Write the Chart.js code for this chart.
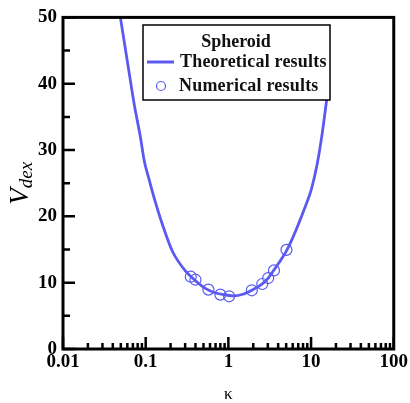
<!DOCTYPE html>
<html>
<head>
<meta charset="utf-8">
<script src="https://cdn.jsdelivr.net/npm/chart.js@4"></script>
<style>
  html, body { margin: 0; padding: 0; background: #fff; }
  canvas { display: block; }
</style>
</head>
<body>
<canvas id="chart" width="410" height="403"></canvas>
<script>
// === データ ===
// 理論曲線 (κ, V_dex)
const theoryKappa = [0.0494, 0.060, 0.0729, 0.0862, 0.096, 0.108, 0.127, 0.160, 0.211, 0.306, 0.40, 0.533, 0.70, 0.931, 1.15, 1.5, 1.92, 2.5, 3.0, 3.5, 4.09, 5.04, 5.92, 8.59, 10.1, 11.9, 13.6, 15.6];
const theoryV     = [50.0,   43.4,  36.8,   32.0,   28.4,  25.9,  22.7,  18.7,  14.7,  11.7,  10.3, 9.1,   8.45, 8.15,  8.0,  8.25, 8.85, 9.7, 10.6, 11.8, 13.0, 14.8, 16.6, 21.6, 24.1, 28.0, 32.4, 38.0];
// 数値計算結果
const numKappa = [0.351, 0.40, 0.574, 0.80, 1.02, 1.92, 2.57, 3.03, 3.56, 5.04];
const numV     = [10.9, 10.45, 8.95, 8.2, 7.95, 8.85, 9.8, 10.7, 11.85, 14.95];

// 目盛り
const xTicks = [0.01, 0.1, 1, 10, 100];
const xTickLabels = ['0.01', '0.1', '1', '10', '100'];
const yTicks = [0, 10, 20, 30, 40, 50];
const yMinorTicks = [5, 15, 25, 35, 45];

const blue = '#5a5af2';
const serif = '"Liberation Serif", "Times New Roman", serif';

const xMinorTicks = [];
xTicks.slice(0, -1).forEach(d => { for (let m = 2; m <= 9; m++) xMinorTicks.push(d * m); });

// === 枠と内向き目盛り ===
const frameTicks = {
    id: 'frameTicks',
    afterDraw(chart) {
        const { ctx, chartArea: a, scales: { x, y } } = chart;
        ctx.save();
        ctx.strokeStyle = '#000';
        ctx.lineWidth = 2.5;
        ctx.beginPath();
        yTicks.forEach(v => { const py = y.getPixelForValue(v); ctx.moveTo(a.left, py); ctx.lineTo(a.left + 12, py); });
        yMinorTicks.forEach(v => { const py = y.getPixelForValue(v); ctx.moveTo(a.left, py); ctx.lineTo(a.left + 7, py); });
        xTicks.forEach(v => { const px = x.getPixelForValue(v); ctx.moveTo(px, a.bottom); ctx.lineTo(px, a.bottom - 12); });
        xMinorTicks.forEach(v => { const px = x.getPixelForValue(v); ctx.moveTo(px, a.bottom); ctx.lineTo(px, a.bottom - 6); });
        ctx.stroke();
        ctx.lineWidth = 3;
        ctx.strokeRect(a.left, a.top, a.right - a.left, a.bottom - a.top);

        // 縦軸タイトル V_dex
        ctx.translate(19, (a.top + a.bottom) / 2);
        ctx.rotate(-Math.PI / 2);
        ctx.fillStyle = '#000';
        ctx.textBaseline = 'alphabetic';
        ctx.font = `italic 27px ${serif}`;
        const vw = ctx.measureText('V').width;
        ctx.font = `italic 19px ${serif}`;
        const dw = ctx.measureText('dex').width;
        const sx = -(vw + dw) / 2;
        ctx.font = `italic 27px ${serif}`;
        ctx.fillText('V', sx, 9);
        ctx.font = `italic 19px ${serif}`;
        ctx.fillText('dex', sx + vw, 13);
        ctx.restore();
    }
};

// === 凡例 ===
const legendBox = {
    id: 'legendBox',
    afterDraw(chart) {
        const { ctx } = chart;
        ctx.save();
        ctx.fillStyle = '#fff';
        ctx.fillRect(143, 25, 187, 75);
        ctx.strokeStyle = '#000';
        ctx.lineWidth = 1.5;
        ctx.strokeRect(143, 25, 187, 75);
        ctx.fillStyle = '#111';
        ctx.font = `bold 18px ${serif}`;
        ctx.textBaseline = 'middle';
        ctx.textAlign = 'center';
        ctx.fillText('Spheroid', 236, 42);
        ctx.textAlign = 'left';
        ctx.letterSpacing = '0.2px';
        ctx.fillText('Theoretical results', 180, 62);
        ctx.fillText('Numerical results', 179, 86);
        ctx.strokeStyle = blue;
        ctx.lineWidth = 3;
        ctx.beginPath(); ctx.moveTo(147, 62); ctx.lineTo(174, 62); ctx.stroke();
        ctx.lineWidth = 1.2;
        ctx.beginPath(); ctx.arc(161, 86, 4.5, 0, Math.PI * 2); ctx.stroke();
        ctx.restore();
    }
};

// === グラフ描画 ===
const tickFont = { family: serif, size: 19, weight: 'bold' };

new Chart(document.getElementById('chart').getContext('2d'), {
    type: 'scatter',
    data: {
        datasets: [
            {
                label: 'Numerical results',
                data: numKappa.map((k, i) => ({ x: k, y: numV[i] })),
                pointRadius: 5.5, pointBorderWidth: 1.2,
                pointBackgroundColor: 'rgba(0,0,0,0)', pointBorderColor: blue,
                showLine: false
            },
            {
                label: 'Theoretical results',
                data: theoryKappa.map((k, i) => ({ x: k, y: theoryV[i] })),
                showLine: true, pointRadius: 0, borderColor: blue, borderWidth: 2.8,
                cubicInterpolationMode: 'monotone'
            }
        ]
    },
    options: {
        responsive: false, animation: false,
        layout: { padding: { top: 17, right: 15, left: 0, bottom: 0 } },
        plugins: { legend: { display: false }, tooltip: { enabled: false } },
        scales: {
            x: {
                type: 'logarithmic', min: 0.01, max: 100,
                afterBuildTicks: (axis) => { axis.ticks = xTicks.map(v => ({ value: v })); },
                afterFit: (axis) => { axis.height = 54; },
                ticks: { callback: (v, i) => xTickLabels[i], font: tickFont, color: '#000', maxRotation: 0, autoSkip: false, padding: 2 },
                grid: { display: false, drawTicks: false },
                border: { display: false },
                title: { display: true, text: 'κ', font: { family: serif, size: 17 }, color: '#000', padding: { top: 0, bottom: -2 } }
            },
            y: {
                min: 0, max: 50,
                afterBuildTicks: (axis) => { axis.ticks = yTicks.map(v => ({ value: v })); },
                afterFit: (axis) => { axis.width = 63; },
                ticks: { font: tickFont, color: '#000', padding: 6 },
                grid: { display: false, drawTicks: false },
                border: { display: false }
            }
        }
    },
    plugins: [frameTicks, legendBox]
});
</script>
</body>
</html>
